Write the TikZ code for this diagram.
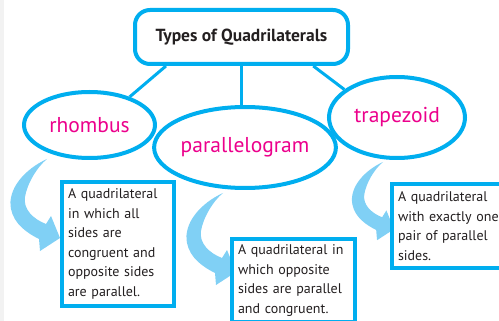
\documentclass[tikz,border=0pt]{standalone}
\usepackage{fontspec}
\setmainfont{PT Sans}
\usetikzlibrary{shapes.geometric}
\definecolor{qcyan}{RGB}{0,174,239}
\definecolor{qmagenta}{RGB}{236,0,140}
\definecolor{qarrow}{RGB}{128,208,245}
\definecolor{qtext}{RGB}{35,31,32}

\begin{document}
\begin{tikzpicture}[x=1pt,y=-1pt,
  titlebox/.style={draw=qcyan,line width=4pt,rounded corners=15pt,fill=white,
    minimum width=213pt,minimum height=54pt,text=qtext,
    font=\bfseries\fontsize{17.5}{21}\selectfont},
  shapebubble/.style={ellipse,draw=qcyan,line width=4pt,fill=white,inner sep=0pt,
    text=qmagenta,font=\fontsize{21.5}{25}\selectfont},
  defbox/.style={draw=qcyan,line width=4pt,fill=white,anchor=north west,align=left,
    inner xsep=6pt,inner ysep=6pt,text=qtext,font=\fontsize{14}{19.5}\selectfont},
  link/.style={draw=qcyan,line width=3pt},
  bentarrow/.pic={
    \fill[qarrow] (0,0) .. controls (-22,10) and (-40,30) .. (-36,50)
      .. controls (-33,65) and (-20,74) .. (-8,80)
      -- (-7,92) -- (13,79) -- (4,57) -- (-1,65)
      .. controls (-14,60) and (-24,50) .. (-22,38)
      .. controls (-20,25) and (-10,8) .. (0,0) -- cycle;
  }]
\useasboundingbox (0,0) rectangle (499,321);
\clip (0,0) rectangle (499,321);
\fill[black!5] (0,0) rectangle (4,321);

\node[titlebox] (title) at (241.5,37) {Types of Quadrilaterals};

\node[shapebubble,minimum width=131pt,minimum height=66pt] (rhombus) at (89.5,125) {rhombus};
\node[shapebubble,minimum width=136pt,minimum height=81pt] (parallelogram) at (245,147.5) {parallelogram};
\node[shapebubble,minimum width=136pt,minimum height=81pt] (trapezoid) at (397,117.5) {trapezoid};

\draw[link] (title.201) -- (rhombus.35);
\draw[link] (title.south) -- (title.south |- parallelogram.north);
\draw[link] (title.338) -- (trapezoid.152);

\pic at (47,159) {bentarrow};
\pic at (223,193) {bentarrow};
\pic[scale=0.85] at (383,162) {bentarrow};

\node[defbox,text width=100pt,minimum height=124pt] (rhombusdef) at (60,180)
  {A quadrilateral\\in which all\\sides are\\congruent and\\opposite sides\\are parallel.};
\node[defbox,text width=111pt] (paralleldef) at (230,237)
  {A quadrilateral in\\which opposite\\sides are parallel\\and congruent.};
\node[defbox,text width=106pt,minimum height=84pt] (trapezoiddef) at (390,182)
  {A quadrilateral\\with exactly one\\pair of parallel\\sides.};
\end{tikzpicture}
\end{document}
